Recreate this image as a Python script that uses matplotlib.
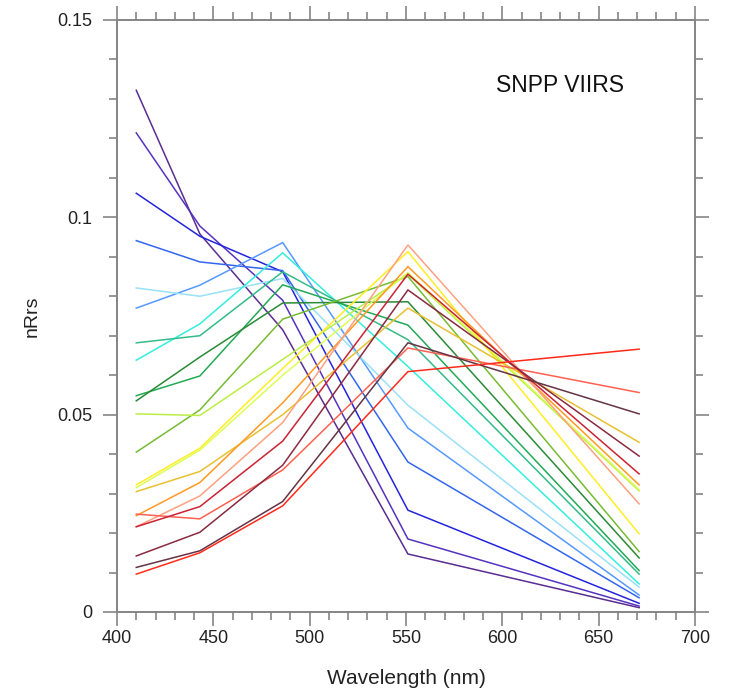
import matplotlib
matplotlib.use("Agg")
import matplotlib.pyplot as plt
from matplotlib.ticker import MultipleLocator

plt.rcParams['font.family'] = ['Liberation Sans', 'DejaVu Sans']

wavelengths = [410, 443, 486, 551, 671]

series_colors = [
    "#5a2d91", "#5533c0", "#2424dd", "#3366ee", "#5599ff", "#99e0f8",
    "#33eedd", "#33bb88", "#22aa55", "#2a8a35", "#77bb33", "#bbee44",
    "#ddff55", "#ffee22", "#e8c030", "#ff9922", "#ffa080", "#ff6050",
    "#cc2233", "#8a2a40", "#663344", "#ff2a1a",
]

series_values = [
    [0.1322, 0.0958, 0.0715, 0.0147, 0.0011],
    [0.1214, 0.0978, 0.0790, 0.0185, 0.0015],
    [0.1061, 0.0952, 0.0862, 0.0258, 0.0022],
    [0.0941, 0.0887, 0.0865, 0.0380, 0.0036],
    [0.0770, 0.0828, 0.0936, 0.0466, 0.0043],
    [0.0821, 0.0800, 0.0845, 0.0524, 0.0063],
    [0.0638, 0.0730, 0.0910, 0.0622, 0.0071],
    [0.0682, 0.0700, 0.0862, 0.0690, 0.0096],
    [0.0548, 0.0598, 0.0829, 0.0727, 0.0105],
    [0.0535, 0.0646, 0.0783, 0.0786, 0.0137],
    [0.0405, 0.0512, 0.0742, 0.0850, 0.0153],
    [0.0502, 0.0498, 0.0640, 0.0856, 0.0307],
    [0.0315, 0.0410, 0.0600, 0.0860, 0.0310],
    [0.0322, 0.0415, 0.0617, 0.0913, 0.0198],
    [0.0305, 0.0356, 0.0500, 0.0770, 0.0430],
    [0.0244, 0.0328, 0.0530, 0.0875, 0.0322],
    [0.0216, 0.0294, 0.0480, 0.0930, 0.0274],
    [0.0248, 0.0236, 0.0360, 0.0669, 0.0556],
    [0.0216, 0.0267, 0.0433, 0.0856, 0.0350],
    [0.0142, 0.0202, 0.0372, 0.0816, 0.0395],
    [0.0113, 0.0155, 0.0280, 0.0682, 0.0502],
    [0.0096, 0.0150, 0.0269, 0.0609, 0.0666],
]

x_ticks = [400, 450, 500, 550, 600, 650, 700]
y_ticks = [0, 0.05, 0.1, 0.15]
y_tick_labels = ["0", "0.05", "0.1", "0.15"]

fig = plt.figure(figsize=(7.42, 6.93), dpi=100)
ax = fig.add_axes([117/742, 1-612/693, (695-117)/742, (612-20)/693])

for vals, c in zip(series_values, series_colors):
    ax.plot(wavelengths, vals, color=c, lw=1.1, solid_joinstyle='miter')

ax.set_xlim(400, 700)
ax.set_ylim(0, 0.15)
ax.set_xticks(x_ticks)
ax.set_yticks(y_ticks)
ax.set_yticklabels(y_tick_labels)
ax.xaxis.set_minor_locator(MultipleLocator(10))
ax.yaxis.set_minor_locator(MultipleLocator(0.01))

spine_c = "#858585"
for s in ax.spines.values():
    s.set_color(spine_c)
    s.set_linewidth(1.4)

ax.tick_params(which='both', direction='out', color=spine_c, width=1.2,
               top=True, right=True, labelsize=13, labelcolor="#222222")
ax.tick_params(which='major', length=10)
ax.tick_params(which='minor', length=6)
ax.tick_params(axis='x', which='major', pad=3)
ax.tick_params(axis='y', which='major', pad=8)

ax.set_xlabel("Wavelength (nm)", fontsize=15, color="#222222", labelpad=16)
ax.set_ylabel("nRrs", fontsize=14, color="#222222", labelpad=12)

ax.text(630, 0.1335, "SNPP VIIRS", fontsize=16.5, ha='center', va='center',
        color="#111111")

fig.savefig("out.png", dpi=100)
